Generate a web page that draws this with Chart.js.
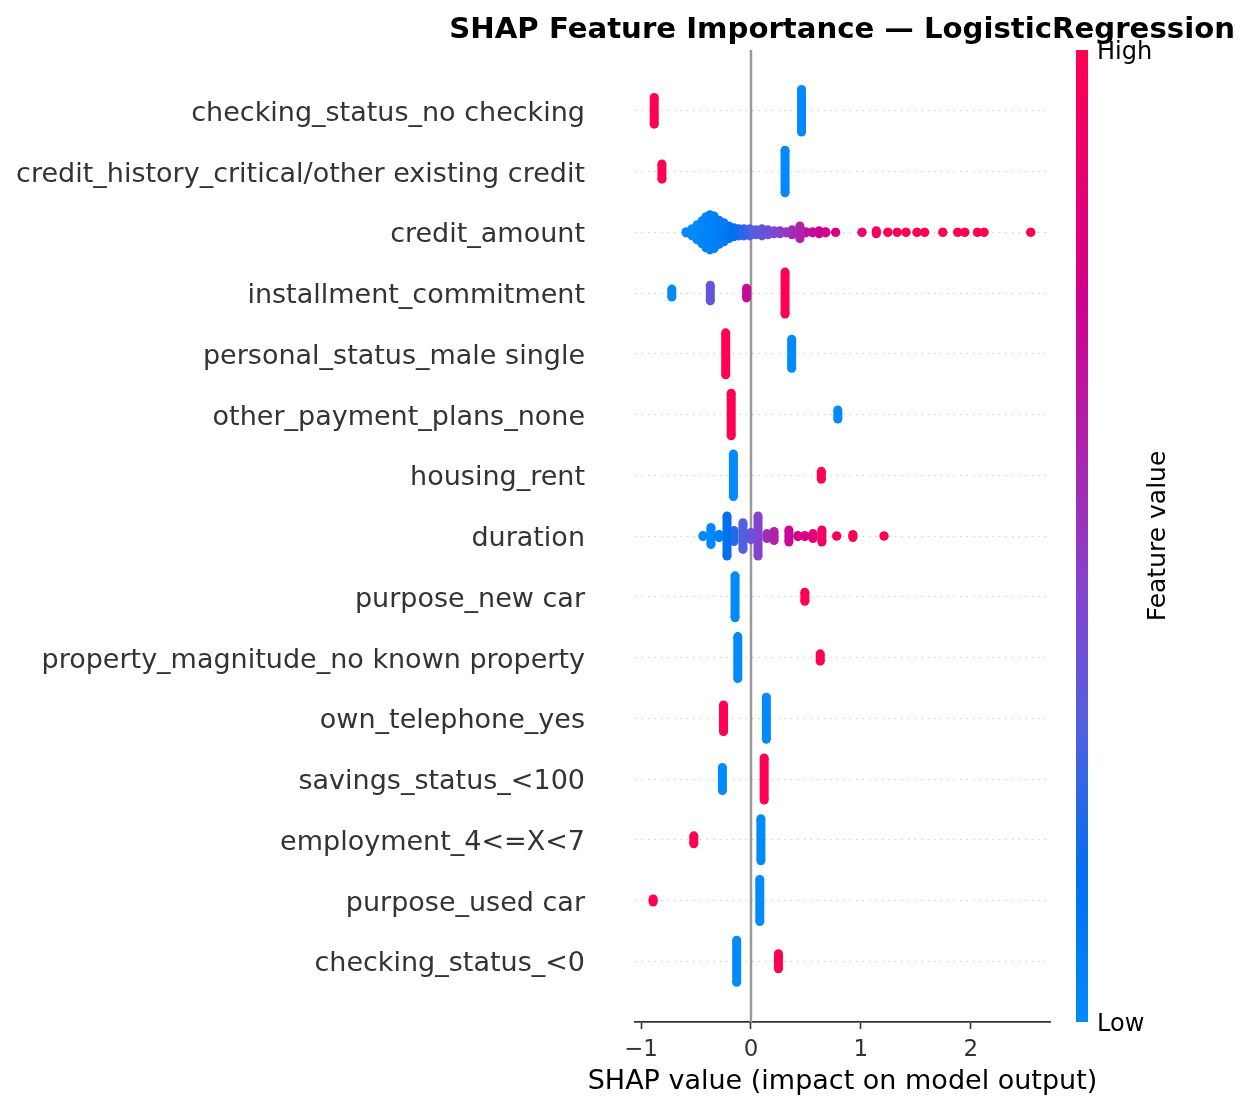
<!DOCTYPE html>
<html>
<head>
<meta charset="utf-8">
<script src="https://cdn.jsdelivr.net/npm/chart.js@4.4.1/dist/chart.umd.min.js"></script>
<style>
  html, body { margin: 0; padding: 0; background: #ffffff; }
  #wrap { position: relative; width: 1249px; height: 1109px; }
</style>
</head>
<body>
<div id="wrap"><canvas id="c"></canvas></div>
<script>
// ---------------- DATA ----------------
// Feature names, top row first
const featureNames = [
  "checking_status_no checking",
  "credit_history_critical/other existing credit",
  "credit_amount",
  "installment_commitment",
  "personal_status_male single",
  "other_payment_plans_none",
  "housing_rent",
  "duration",
  "purpose_new car",
  "property_magnitude_no known property",
  "own_telephone_yes",
  "savings_status_<100",
  "employment_4<=X<7",
  "purpose_used car",
  "checking_status_<0"
];

// Each cluster: [SHAP value, vertical pile-up (rows), feature value 0=low..1=high]
const checkingNoChecking = [[-0.88, 0.22, 1], [0.46, 0.35, 0]];
const creditHistoryCritical = [[-0.81, 0.125, 1], [0.31, 0.35, 0]];
const creditAmount = [
  [-0.59, 0.01, 0], [-0.536, 0.06, 0], [-0.49, 0.125, 0.02], [-0.445, 0.19, 0.03],
  [-0.41, 0.255, 0.04], [-0.373, 0.29, 0.05], [-0.336, 0.27, 0.06], [-0.29, 0.2, 0.08],
  [-0.245, 0.155, 0.1], [-0.2, 0.105, 0.13], [-0.155, 0.075, 0.17], [-0.11, 0.06, 0.21],
  [-0.064, 0.06, 0.25], [-0.01, 0.06, 0.3], [0.045, 0.04, 0.33], [0.1, 0.06, 0.36],
  [0.155, 0.04, 0.4], [0.21, 0.025, 0.43], [0.264, 0.025, 0.47], [0.32, 0.01, 0.5],
  [0.373, 0.04, 0.55], [0.445, 0.105, 0.6], [0.5, 0.01, 0.65], [0.56, 0.01, 0.7],
  [0.62, 0.025, 0.73], [0.68, 0.01, 0.76], [0.77, 0, 0.78], [1.01, 0, 0.88],
  [1.14, 0.025, 0.95], [1.245, 0, 1], [1.33, 0, 1], [1.41, 0, 1], [1.51, 0, 1],
  [1.58, 0, 1], [1.745, 0, 1], [1.88, 0, 1], [1.945, 0, 1], [2.06, 0, 1],
  [2.12, 0, 1], [2.545, 0, 1]
];
const installmentCommitment = [[-0.72, 0.065, 0], [-0.37, 0.13, 0.35], [-0.04, 0.08, 0.7], [0.31, 0.345, 1]];
const personalStatusMaleSingle = [[-0.23, 0.345, 1], [0.37, 0.24, 0]];
const otherPaymentPlansNone = [[-0.18, 0.35, 1], [0.79, 0.075, 0]];
const housingRent = [[-0.16, 0.35, 0], [0.64, 0.065, 1]];
const duration = [
  [-0.436, 0.01, 0], [-0.364, 0.14, 0.02], [-0.29, 0.025, 0.06], [-0.218, 0.33, 0.15],
  [-0.155, 0.09, 0.22], [-0.073, 0.22, 0.3], [0.0, 0.06, 0.38], [0.064, 0.33, 0.45],
  [0.145, 0.04, 0.55], [0.21, 0.075, 0.6], [0.345, 0.1, 0.7], [0.427, 0.01, 0.77],
  [0.49, 0.01, 0.8], [0.564, 0.04, 0.85], [0.645, 0.1, 0.92], [0.78, 0, 0.97],
  [0.927, 0.025, 1], [1.21, 0, 1]
];
const purposeNewCar = [[-0.145, 0.345, 0], [0.49, 0.075, 1]];
const propertyNoKnown = [[-0.12, 0.345, 0], [0.63, 0.06, 1]];
const ownTelephoneYes = [[-0.25, 0.22, 1], [0.14, 0.345, 0]];
const savingsLt100 = [[-0.26, 0.19, 0], [0.12, 0.345, 1]];
const employment4to7 = [[-0.52, 0.065, 1], [0.09, 0.345, 0]];
const purposeUsedCar = [[-0.89, 0.025, 1], [0.08, 0.345, 0]];
const checkingLt0 = [[-0.13, 0.345, 0], [0.25, 0.125, 1]];

const featureClusters = [
  checkingNoChecking, creditHistoryCritical, creditAmount, installmentCommitment,
  personalStatusMaleSingle, otherPaymentPlansNone, housingRent, duration,
  purposeNewCar, propertyNoKnown, ownTelephoneYes, savingsLt100,
  employment4to7, purposeUsedCar, checkingLt0
];

const xTicks = [-1, 0, 1, 2];
const xMin = -1.055, xMax = 2.72;
const xAxisTitle = 'SHAP value (impact on model output)';
const colorbarTitle = 'Feature value';
const colorbarLabels = ['Low', 'High'];

// ---------------- STYLE ----------------
const FONT = "DejaVu Sans";
const cmapStops = [
  [0.0, [0, 138, 250]],
  [0.15, [0, 112, 240]],
  [0.3, [80, 96, 224]],
  [0.45, [135, 66, 205]],
  [0.6, [176, 32, 170]],
  [0.75, [210, 0, 140]],
  [1.0, [255, 0, 82]]
];
function cmap(v) {
  for (let i = 1; i < cmapStops.length; i++) {
    const [p1, c1] = cmapStops[i], [p0, c0] = cmapStops[i - 1];
    if (v <= p1) {
      const t = (v - p0) / (p1 - p0);
      const c = c0.map((a, k) => Math.round(a + (c1[k] - a) * t));
      return `rgb(${c[0]},${c[1]},${c[2]})`;
    }
  }
  const c = cmapStops[cmapStops.length - 1][1];
  return `rgb(${c[0]},${c[1]},${c[2]})`;
}

const N = featureNames.length;
const datasets = [];
// zero line
datasets.push({
  type: 'line', data: [{x: 0, y: -1}, {x: 0, y: N}],
  borderColor: '#999999', borderWidth: 2.5, pointRadius: 0, order: 10, yAxisID: 'y'
});
featureClusters.forEach((clusters, r) => {
  const yRow = N - 1 - r;
  clusters.forEach(([s, spread, fv]) => {
    const col = cmap(fv);
    datasets.push({
      type: 'line',
      data: [{x: s, y: yRow - spread}, {x: s, y: yRow + spread}],
      borderColor: col, backgroundColor: col, borderWidth: 9,
      pointRadius: 4.5, pointBorderWidth: 0, pointBackgroundColor: col,
      pointHoverRadius: 4.5, order: 0, yAxisID: 'y'
    });
  });
});

const extrasPlugin = {
  id: 'extras',
  afterDraw(chart) {
    const {ctx, chartArea} = chart;
    const x0 = chartArea.right + 26, w = 12;
    const top = chartArea.top, bot = chartArea.bottom;
    const g = ctx.createLinearGradient(0, bot, 0, top);
    cmapStops.forEach(([p]) => g.addColorStop(p, cmap(p)));
    ctx.save();
    ctx.fillStyle = g;
    ctx.fillRect(x0, top, w, bot - top);
    ctx.fillStyle = '#000000';
    ctx.font = `24px "${FONT}"`;
    ctx.textAlign = 'left';
    ctx.textBaseline = 'middle';
    ctx.fillText(colorbarLabels[1], x0 + w + 9, top + 3);
    ctx.fillText(colorbarLabels[0], x0 + w + 9, bot + 3);
    // x axis title (centred under the plot area, not squeezed)
    ctx.font = `27px "${FONT}"`;
    ctx.textAlign = 'center';
    ctx.fillText(xAxisTitle, (chartArea.left + chartArea.right) / 2, 1082);
    // colorbar title
    ctx.translate(chartArea.right + 108, (top + bot) / 2);
    ctx.rotate(-Math.PI / 2);
    ctx.font = `25px "${FONT}"`;
    ctx.fillText(colorbarTitle, 0, 0);
    ctx.restore();
  }
};

new Chart(document.getElementById('c'), {
  type: 'line',
  data: { datasets },
  plugins: [extrasPlugin],
  options: {
    responsive: true,
    maintainAspectRatio: false,
    animation: false,
    events: [],
    layout: { padding: { top: 0, left: 0, right: 14, bottom: 0 } },
    plugins: {
      legend: { display: false },
      tooltip: { enabled: false },
      title: {
        display: true,
        text: 'SHAP Feature Importance \u2014 LogisticRegression',
        align: 'end',
        color: '#000000',
        font: { family: FONT, size: 29.2, weight: 'bold' },
        padding: { top: 13, bottom: 2 }
      }
    },
    scales: {
      x: {
        type: 'linear', position: 'bottom', min: xMin, max: xMax,
        afterBuildTicks: (s) => { s.ticks = xTicks.map(v => ({ value: v })); },
        afterFit: (s) => { s.height = 87; s.paddingLeft = 0; s.paddingRight = 0; },
        ticks: {
          autoSkip: false, maxRotation: 0, padding: 7, color: '#333333',
          font: { family: FONT, size: 23 },
          callback: (v) => (v < 0 ? '\u2212' + Math.abs(v) : String(v))
        },
        grid: {
          display: true, drawOnChartArea: false, drawTicks: true,
          tickLength: 7, tickColor: '#333333', tickWidth: 1.6
        },
        border: { display: true, color: '#333333', width: 1.8 },
        title: { display: false }
      },
      y: {
        type: 'linear', position: 'left', min: -1, max: N,
        afterBuildTicks: (s) => { s.ticks = featureNames.map((_, i) => ({ value: i })); },
        afterFit: (s) => { s.width = 635; s.paddingTop = 0; s.paddingBottom = 0; },
        ticks: {
          autoSkip: false, padding: 50, labelOffset: 3, color: '#333333',
          font: { family: FONT, size: 27 },
          callback: (v) => featureNames[N - 1 - v]
        },
        grid: { display: true, drawOnChartArea: true, drawTicks: false, color: '#cccccc', lineWidth: 1 },
        border: { display: false, dash: [1.5, 5] }
      },
      yR: {
        type: 'linear', position: 'right', display: true,
        ticks: { display: false }, grid: { display: false }, border: { display: false },
        afterFit: (s) => { s.width = 185; s.paddingTop = 0; s.paddingBottom = 0; }
      }
    }
  }
});
</script>
</body>
</html>
